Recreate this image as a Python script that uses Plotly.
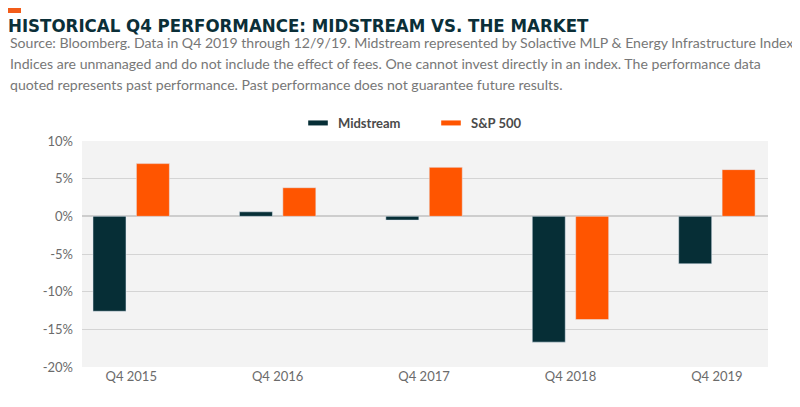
import plotly.graph_objects as go

# Dados (retorno no 4º trimestre, %)
trimestres = ['Q4 2015', 'Q4 2016', 'Q4 2017', 'Q4 2018', 'Q4 2019']
midstream = [-12.6, 0.6, -0.5, -16.7, -6.3]
sp500 = [7.0, 3.8, 6.5, -13.7, 6.2]
y_ticks = [-20, -15, -10, -5, 0, 5, 10]
y_tick_text = [f'{v}%' for v in y_ticks]

cores = ['#062e36', '#ff5500']
cinza_texto = '#6b6b6b'

titulo = 'HISTORICAL Q4 PERFORMANCE: MIDSTREAM VS. THE MARKET'
subtitulo = [
    'Source: Bloomberg. Data in Q4 2019 through 12/9/19. Midstream represented by Solactive MLP & Energy Infrastructure Index',
    'Indices are unmanaged and do not include the effect of fees. One cannot invest directly in an index. The performance data',
    'quoted represents past performance. Past performance does not guarantee future results.',
]

# a página tem margem de 8px no body; posições abaixo em pixels da tela
desloc = 8
largura = 800
altura = 407
area_x0, area_x1 = 82, 768
area_y0, area_y1 = 141, 367
m_esq = area_x0 - desloc
m_dir = largura - (area_x1 - desloc)
m_topo = area_y0 - desloc
m_base = altura - (area_y1 - desloc)
area_w = area_x1 - area_x0
area_h = area_y1 - area_y0


def px_x(p):
    # pixel horizontal da tela -> coordenada paper
    return (p - area_x0) / area_w


def px_y(p):
    # pixel vertical da tela -> coordenada paper
    return (area_y1 - p) / area_h


fig = go.Figure()

fig.add_trace(go.Bar(x=trimestres, y=midstream, name='Midstream',
                     marker_color=cores[0], showlegend=False))
fig.add_trace(go.Bar(x=trimestres, y=sp500, name='S&P 500',
                     marker_color=cores[1], showlegend=False))

# entradas da legenda (retângulo fino como no original)
for nome, cor in zip(['Midstream', 'S&P 500'], cores):
    fig.add_trace(go.Scatter(
        x=[None], y=[None], mode='markers', name=nome,
        marker=dict(symbol='line-ew', size=14, color=cor,
                    line=dict(color=cor, width=5)),
    ))

anotacoes = []
for i, linha in enumerate(subtitulo):
    anotacoes.append(dict(
        text=linha, showarrow=False, xref='paper', yref='paper',
        x=px_x(desloc), y=px_y(42.5 + 21 * i), xanchor='left', yanchor='middle',
        align='left', font=dict(family='Lato', size=14.1, color='#777777'),
    ))

fig.update_layout(
    width=largura,
    height=altura,
    margin=dict(l=m_esq, r=m_dir, t=m_topo, b=m_base, pad=0),
    paper_bgcolor='white',
    plot_bgcolor='#f3f3f3',
    font=dict(family='Lato', color=cinza_texto, size=13),
    title=dict(
        text=titulo, xref='container', yref='container',
        x=0, y=1 - (25.5 - desloc) / altura, xanchor='left', yanchor='middle',
        font=dict(family='DejaVu Sans Condensed, Roboto', size=18.5,
                  color='#0b2f38', weight='bold'),
    ),
    barmode='group',
    bargap=0.407,
    bargroupgap=0.24,
    xaxis=dict(
        type='category',
        range=[-0.336, 4.349],
        showgrid=False,
        showline=False,
        ticks='',
        tickfont=dict(size=13, color=cinza_texto),
    ),
    yaxis=dict(
        range=[-20, 10],
        tickvals=y_ticks,
        ticktext=y_tick_text,
        showgrid=True,
        gridcolor='#d4d4d4',
        gridwidth=1,
        zeroline=True,
        zerolinecolor='#cdcdcd',
        zerolinewidth=2,
        ticks='',
        ticklabelstandoff=8,
        tickfont=dict(size=13, color=cinza_texto),
    ),
    legend=dict(
        orientation='h',
        x=px_x(298), y=px_y(123), xanchor='left', yanchor='middle',
        entrywidth=88, entrywidthmode='pixels',
        font=dict(family='Lato', size=13, color='#4a4a4a', weight='bold'),
        bgcolor='rgba(0,0,0,0)',
    ),
    annotations=anotacoes,
    shapes=[dict(
        type='rect', xref='paper', yref='paper',
        x0=px_x(desloc), x1=px_x(desloc + 13), y0=px_y(desloc + 5), y1=px_y(desloc),
        fillcolor='#f25c19', line=dict(width=0),
    )],
)

fig.write_html('out.html')
